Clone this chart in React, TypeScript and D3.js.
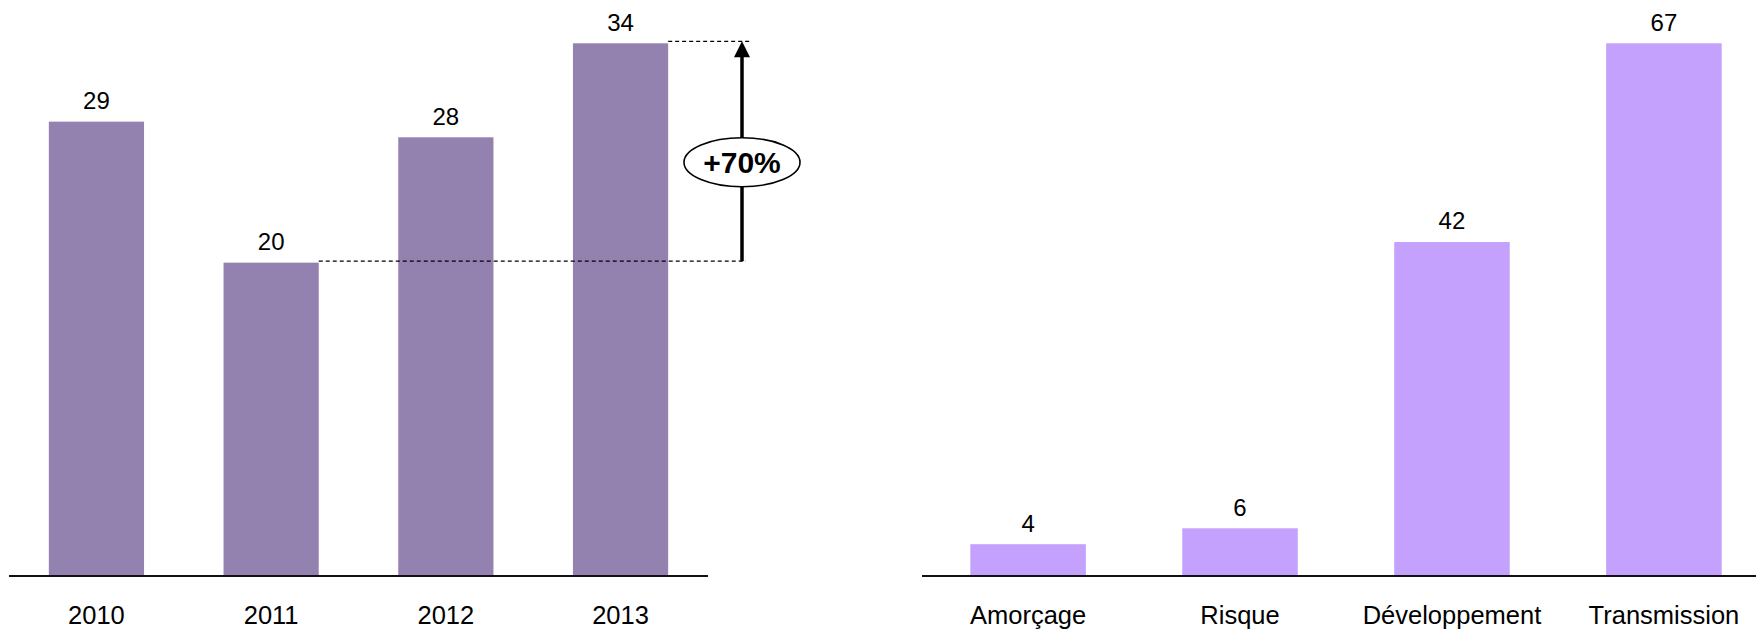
import React from "react";
import * as d3 from "d3";

const yearCategories = ["2010", "2011", "2012", "2013"];
const yearValues = [29, 20, 28, 34];
const stageCategories = ["Amorçage", "Risque", "Développement", "Transmission"];
const stageValues = [4, 6, 42, 67];
const growthLabel = "+70%";

const W = 1756;
const H = 629;
const BASE = 576;
const TOP = 43.3;
const FONT = "'Liberation Sans', Arial, Helvetica, sans-serif";

function BarPanel({ cats, vals, x0, x1, axisEnd, color, children }: any) {
  const x = d3.scaleBand<string>().domain(cats).range([x0, x1]).paddingInner(0.455).paddingOuter(0.228);
  const y = d3.scaleLinear().domain([0, d3.max(vals) as number]).range([BASE, TOP]);
  return (
    <g>
      {cats.map((c: string, i: number) => (
        <g key={c}>
          <rect x={x(c)} y={y(vals[i])} width={x.bandwidth()} height={BASE - y(vals[i])} fill={color} />
          <text x={(x(c) as number) + x.bandwidth() / 2} y={y(vals[i]) - 12.6} textAnchor="middle" fontSize={24} fontFamily={FONT} fill="#000">
            {vals[i]}
          </text>
          <text x={(x(c) as number) + x.bandwidth() / 2} y={624} textAnchor="middle" fontSize={25.5} fontFamily={FONT} fill="#000">
            {c}
          </text>
        </g>
      ))}
      <line x1={x0} x2={axisEnd} y1={BASE} y2={BASE} stroke="#111" strokeWidth={2} />
      {children ? children(x, y) : null}
    </g>
  );
}

export default function App() {
  return (
    <svg width={W} height={H} style={{ position: "absolute", left: 0, top: 0, background: "#fff" }}>
      <rect width={W} height={H} fill="#fff" />
      <BarPanel cats={yearCategories} vals={yearValues} x0={9} x1={708} axisEnd={708} color="#9382B0">
        {(x: any, y: any) => {
          const last = yearCategories[3];
          const low = yearCategories[1];
          const yTop = y(yearValues[3]) - 2;
          const yLow = y(yearValues[1]) - 1.5;
          const ax = 742;
          const cy = (yTop + yLow) / 2 + 11;
          return (
            <g>
              <line x1={(x(last) as number) + x.bandwidth()} x2={750} y1={yTop} y2={yTop} stroke="#000" strokeWidth={1.2} strokeDasharray="4,3" />
              <line x1={(x(low) as number) + x.bandwidth()} x2={746} y1={yLow} y2={yLow} stroke="#000" strokeWidth={1.2} strokeDasharray="4,3" />
              <line x1={ax} x2={ax} y1={yLow} y2={yTop + 14} stroke="#000" strokeWidth={3.5} />
              <path d={`M${ax},${yTop} L${ax - 8},${yTop + 16} L${ax + 8},${yTop + 16} Z`} fill="#000" />
              <ellipse cx={ax} cy={cy} rx={58} ry={24.5} fill="#fff" stroke="#000" strokeWidth={1.6} />
              <text x={ax} y={cy + 10.5} textAnchor="middle" fontSize={30} fontWeight="bold" fontFamily={FONT} fill="#000">
                {growthLabel}
              </text>
            </g>
          );
        }}
      </BarPanel>
      <BarPanel cats={stageCategories} vals={stageValues} x0={922} x1={1770} axisEnd={1756} color="#C4A1FD" />
    </svg>
  );
}
